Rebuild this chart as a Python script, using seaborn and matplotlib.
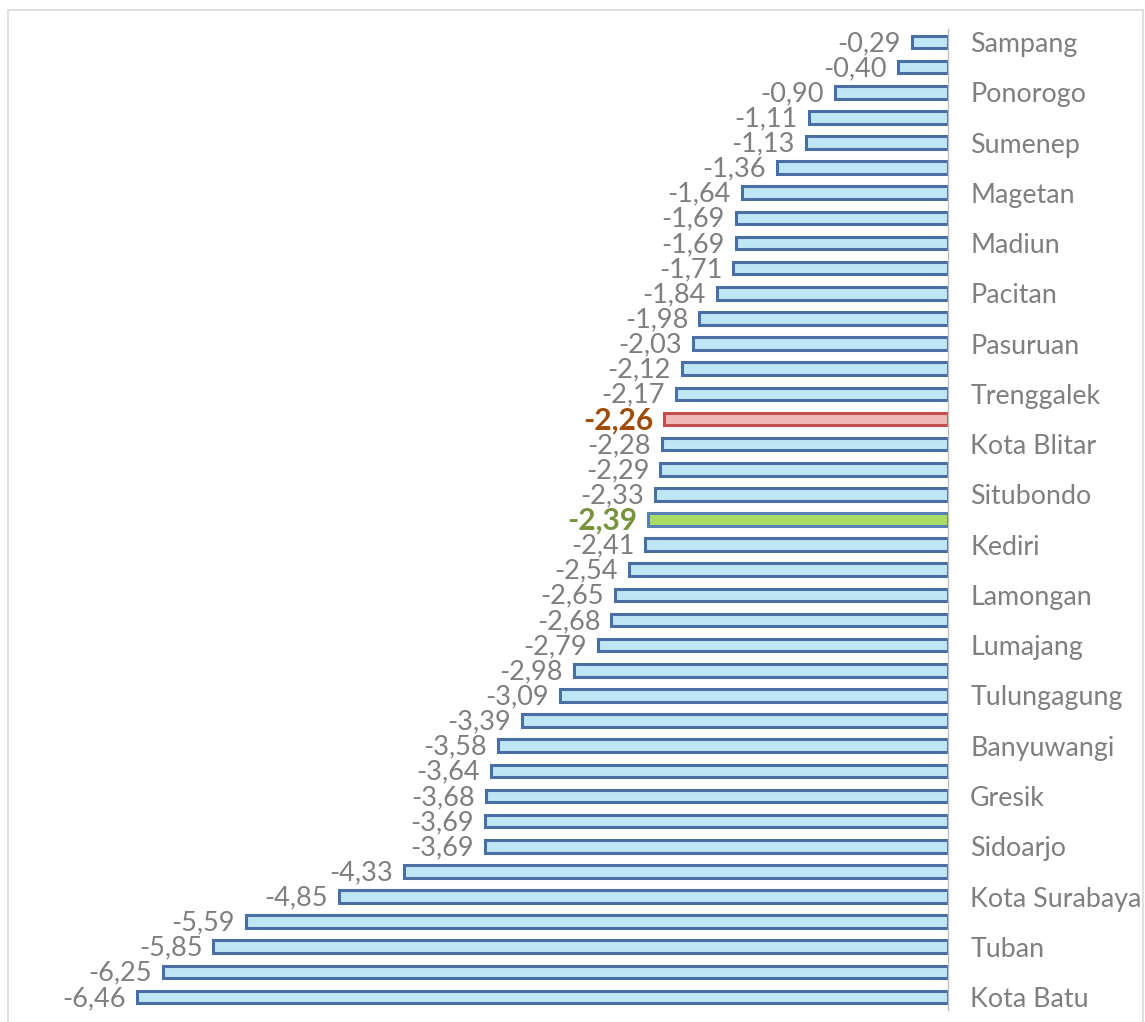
import matplotlib
matplotlib.use("Agg")
import matplotlib.pyplot as plt
import seaborn as sns
import pandas as pd
from matplotlib.patches import Rectangle

values = [-0.29, -0.40, -0.90, -1.11, -1.13, -1.36, -1.64, -1.69, -1.69, -1.71,
          -1.84, -1.98, -2.03, -2.12, -2.17, -2.26, -2.28, -2.29, -2.33, -2.39,
          -2.41, -2.54, -2.65, -2.68, -2.79, -2.98, -3.09, -3.39, -3.58, -3.64,
          -3.68, -3.69, -3.69, -4.33, -4.85, -5.59, -5.85, -6.25, -6.46]
tick_labels = ["Sampang", "", "Ponorogo", "", "Sumenep", "", "Magetan", "", "Madiun", "",
               "Pacitan", "", "Pasuruan", "", "Trenggalek", "", "Kota Blitar", "", "Situbondo", "",
               "Kediri", "", "Lamongan", "", "Lumajang", "", "Tulungagung", "", "Banyuwangi", "",
               "Gresik", "", "Sidoarjo", "", "Kota Surabaya", "", "Tuban", "", "Kota Batu"]
highlight_red = 15
highlight_green = 19

sns.set_theme(style="white")
plt.rcParams['font.family'] = ['Lato', 'DejaVu Sans']

df = pd.DataFrame({"pos": list(range(len(values))), "val": values})

fig = plt.figure(figsize=(11.45, 10.22), dpi=100)
ax = fig.add_axes([20/1145, 1 - 1009.6/1022, (948-20)/1145, (1009.6-29.4)/1022])

sns.barplot(data=df, x="val", y="pos", orient="h", ax=ax, width=0.5,
            color="#b3e0f2", saturation=1)

for i, p in enumerate(ax.patches):
    if i == highlight_red:
        p.set_facecolor("#f0b8b6"); p.set_edgecolor("#c0504d")
    elif i == highlight_green:
        p.set_facecolor("#a9dc62"); p.set_edgecolor("#5a7fb5")
    else:
        p.set_facecolor("#bfe6f5"); p.set_edgecolor("#4a6fa5")
    p.set_linewidth(2.2)

for i, v in enumerate(values):
    txt = f"{v:.2f}".replace(".", ",")
    if i == highlight_red:
        kw = dict(color="#a04c06", fontweight="bold", fontsize=21.5)
    elif i == highlight_green:
        kw = dict(color="#77933c", fontweight="bold", fontsize=21.5)
    else:
        kw = dict(color="#7f7f7f", fontsize=19.5)
    ax.annotate(txt, xy=(v, i), xytext=(-8, -1), textcoords="offset points",
                ha="right", va="center", **kw)

ax.set_xlim(-7.39, 0)
ax.set_ylim(38.5, -0.5)
ax.yaxis.tick_right()
ax.set_yticks(range(len(values)))
ax.set_yticklabels(tick_labels, fontsize=19.3, color="#7f7f7f")
ax.tick_params(axis="y", length=0, pad=16)
ax.set_xticks([])
ax.set_xlabel("")
ax.set_ylabel("")
for s in ["left", "top", "bottom"]:
    ax.spines[s].set_visible(False)
ax.spines["right"].set_visible(True)
ax.spines["right"].set_color("#bfbfbf")
ax.spines["right"].set_linewidth(1)

fig.patches.append(Rectangle((8/1145, -0.01), (1143-8)/1145, 1 - 10/1022 + 0.01,
                             transform=fig.transFigure, fill=False,
                             edgecolor="#d9d9d9", linewidth=1.2))

fig.savefig("out.png", dpi=100)
